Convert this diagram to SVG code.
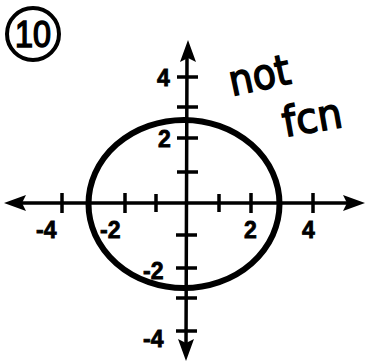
<svg xmlns="http://www.w3.org/2000/svg" width="367" height="362" viewBox="0 0 367 362">
<style>
.ax{stroke:#000;stroke-width:3.5;fill:none;stroke-linecap:round}
.tk{stroke:#000;stroke-width:3.5;fill:none}
.lb{font-family:"Liberation Sans",Arial,sans-serif;font-weight:bold;font-size:23px;fill:#000;stroke:#000;stroke-width:0.8}
.hw{font-family:"DejaVu Sans",sans-serif;font-size:42px;fill:#000;stroke:#000;stroke-width:1.5}
</style>
<rect width="367" height="362" fill="#fff"/>
<g id="number">
<circle cx="33" cy="34" r="26" fill="none" stroke="#000" stroke-width="4"/>
<text x="33" y="47" text-anchor="middle" font-family="Liberation Sans,Arial,sans-serif" font-size="36" fill="#000" stroke="#000" stroke-width="1.5" textLength="36" lengthAdjust="spacingAndGlyphs">10</text>
</g>
<g id="axes">
<line class="ax" x1="20" y1="203" x2="350" y2="203"/>
<polygon points="4,203 26,195 22,203 26,211" fill="#000"/>
<polygon points="365,203 343,195 347,203 343,211" fill="#000"/>
<line class="ax" x1="187" y1="55" x2="186" y2="345"/>
<polygon points="188,40 180,62 188,58 196,62" fill="#000"/>
<polygon points="186,361 178,339 186,343 194,339" fill="#000"/>
</g>
<g id="ticks">
<path class="tk" d="M62 193V213M125 193V213M156 194V212M219 194V212M251 193V213M313 193V213"/>
<path class="tk" d="M177 77H198M177 107H198M177 138H198M177 172H198M176 235H197M176 268H197M176 298H197M176 331H197"/>
</g>
<g id="labels">
<text class="lb" x="36" y="238">-4</text>
<text class="lb" x="100" y="238">-2</text>
<text class="lb" x="244" y="238">2</text>
<text class="lb" x="302" y="238">4</text>
<text class="lb" x="157" y="86">4</text>
<text class="lb" x="158" y="147">2</text>
<text class="lb" x="143" y="279">-2</text>
<text class="lb" x="143" y="347">-4</text>
</g>
<g id="ellipse">
<ellipse cx="184" cy="204" rx="95.5" ry="84" fill="none" stroke="#000" stroke-width="6"/>
</g>
<g id="note">
<text class="hw" transform="translate(232,96) rotate(-12)" textLength="62" lengthAdjust="spacingAndGlyphs">not</text>
<text class="hw" transform="translate(285,137) rotate(-10)" textLength="60" lengthAdjust="spacingAndGlyphs">fcn</text>
</g>
</svg>
